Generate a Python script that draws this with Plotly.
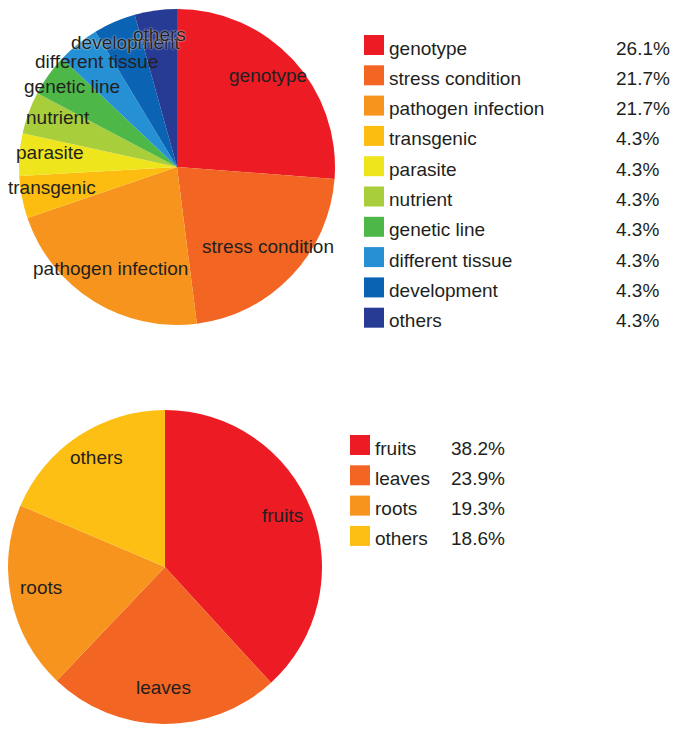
import plotly.graph_objects as go

W, H = 671, 725  # la pagina deja 8px de margen en el body
OFF = 8

# datos del primer pastel (tipo de experimento)
cond_labels = ["genotype", "stress condition", "pathogen infection", "transgenic", "parasite",
               "nutrient", "genetic line", "different tissue", "development", "others"]
cond_values = [26.1, 21.7, 21.7, 4.3, 4.3, 4.3, 4.3, 4.3, 4.3, 4.3]
cond_colors = ["#ED1C24", "#F26522", "#F7941D", "#FDBD10", "#EEE51C",
               "#A8CE3B", "#4DB848", "#2590D4", "#0B63B3", "#273B95"]

# datos del segundo pastel (tejido)
tissue_labels = ["fruits", "leaves", "roots", "others"]
tissue_values = [38.2, 23.9, 19.3, 18.6]
tissue_colors = ["#ED1C24", "#F26522", "#F7941D", "#FDBF14"]

# posiciones (px de la imagen) de las etiquetas dentro de cada pastel
cond_text_pos = [(268, 75), (268, 247), (110, 268), (52, 187), (50, 153),
                 (58, 118), (72, 87), (96, 62), (126, 43), (159, 35)]
tissue_text_pos = [(282, 515), (163, 687), (41, 587), (96, 457)]

FONT = "Liberation Sans, Arial, sans-serif"
TXT = "#231F20"
FS = 19


def px(x):
    return (x - OFF) / W


def py(y):
    return 1 - (y - OFF) / H


fig = go.Figure()
fig.add_trace(go.Pie(labels=cond_labels, values=cond_values, sort=False, direction="clockwise",
                     rotation=0, textinfo="none", hoverinfo="label+percent",
                     marker=dict(colors=cond_colors, line=dict(width=0)),
                     domain=dict(x=[px(19), px(335)], y=[py(325), py(9)]), showlegend=False))
fig.add_trace(go.Pie(labels=tissue_labels, values=tissue_values, sort=False, direction="clockwise",
                     rotation=0, textinfo="none", hoverinfo="label+percent",
                     marker=dict(colors=tissue_colors, line=dict(width=0)),
                     domain=dict(x=[px(8), px(322)], y=[py(724), py(410)]), showlegend=False))

annotations = []
shapes = []

# etiquetas sobre los pasteles
for lab, (x, y) in zip(cond_labels, cond_text_pos):
    f = dict(family=FONT, size=FS, color=TXT)
    if lab in ("others", "development"):
        f["shadow"] = "0 0 2px white"
    annotations.append(dict(x=px(x), y=py(y), xref="paper", yref="paper", text=lab,
                            showarrow=False, font=f, xanchor="center", yanchor="middle"))
for lab, (x, y) in zip(tissue_labels, tissue_text_pos):
    annotations.append(dict(x=px(x), y=py(y), xref="paper", yref="paper", text=lab,
                            showarrow=False, font=dict(family=FONT, size=FS, color=TXT),
                            xanchor="center", yanchor="middle"))


# leyendas hechas a mano con cuadrados y porcentajes
def add_legend(labels, values, colors, sq_x, y0, text_x, pct_x, step=30.3):
    for i, (lab, val, col) in enumerate(zip(labels, values, colors)):
        yc = y0 + step * i
        shapes.append(dict(type="rect", xref="paper", yref="paper",
                           x0=px(sq_x), x1=px(sq_x + 20), y0=py(yc + 10), y1=py(yc - 10),
                           fillcolor=col, line=dict(width=0)))
        annotations.append(dict(x=px(text_x), y=py(yc + 3), xref="paper", yref="paper", text=lab,
                                showarrow=False, font=dict(family=FONT, size=FS, color=TXT),
                                xanchor="left", yanchor="middle"))
        annotations.append(dict(x=px(pct_x), y=py(yc + 3), xref="paper", yref="paper",
                                text=f"{val:.1f}%", showarrow=False,
                                font=dict(family=FONT, size=FS, color=TXT),
                                xanchor="left", yanchor="middle"))


add_legend(cond_labels, cond_values, cond_colors, 364, 45, 387, 614)
add_legend(tissue_labels, tissue_values, tissue_colors, 350, 445, 373, 449)

fig.update_layout(width=W, height=H, margin=dict(l=0, r=0, t=0, b=0),
                  paper_bgcolor="white", plot_bgcolor="white",
                  annotations=annotations, shapes=shapes)

fig.write_html("out.html")
